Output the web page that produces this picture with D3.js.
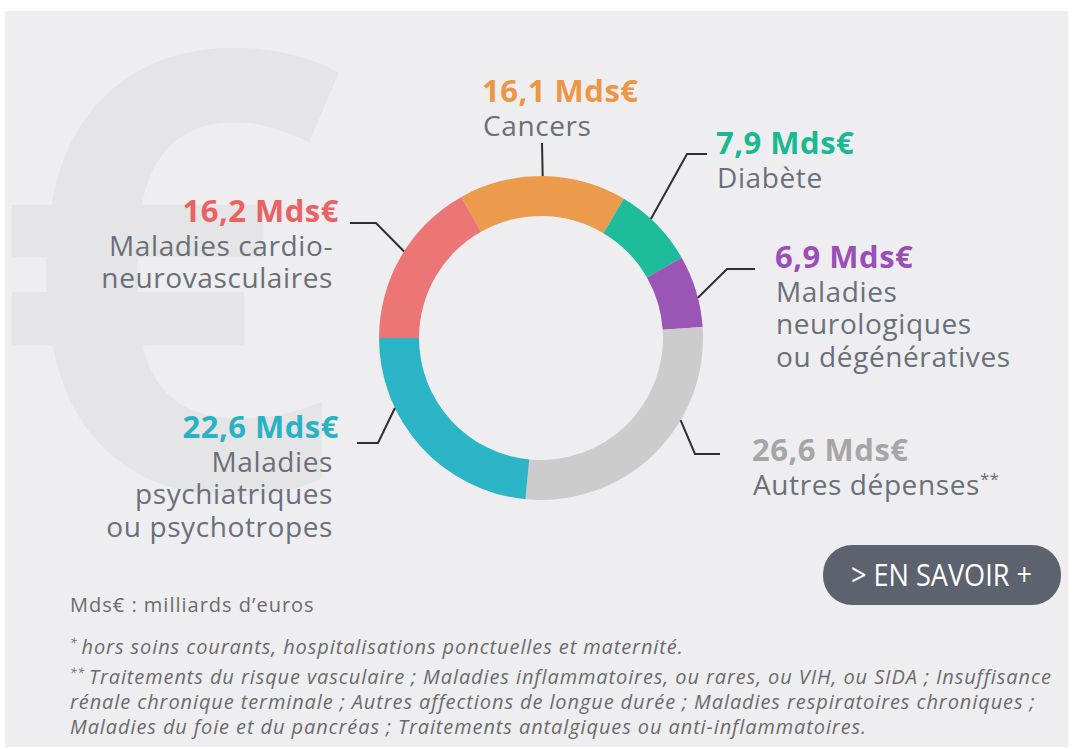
<!DOCTYPE html>
<html>
<head>
<meta charset="utf-8">
<script src="https://cdn.jsdelivr.net/npm/d3@7"></script>
<style>
	body { margin: 0; background: #fff; }
	svg { display: block; font-family: "Open Sans", sans-serif; }
</style>
</head>
<body>
<div id="chart"></div>
<script>
// values (Mds€)
var	categories	= ["Cancers", "Diabète", "Maladies neurologiques ou dégénératives", "Autres dépenses**", "Maladies psychiatriques ou psychotropes", "Maladies cardio-neurovasculaires"],
	values		= [16.1, 7.9, 6.9, 26.6, 22.6, 16.2],
	labelLines	= [["Cancers"], ["Diabète"], ["Maladies", "neurologiques", "ou dégénératives"], ["Autres dépenses**"], ["Maladies", "psychiatriques", "ou psychotropes"], ["Maladies cardio-", "neurovasculaires"]],
	sliceColors	= ["#ec9a4c", "#1dbc9a", "#9b55b5", "#cccccc", "#2bb5c6", "#ec7575"],
	valueColors	= ["#ec9646", "#1bb893", "#9a4fb6", "#a6a6a6", "#2ab2c4", "#ea6262"],
	footnotes	= [
		"* hors soins courants, hospitalisations ponctuelles et maternité.",
		"** Traitements du risque vasculaire ; Maladies inflammatoires, ou rares, ou VIH, ou SIDA ; Insuffisance",
		"rénale chronique terminale ; Autres affections de longue durée ; Maladies respiratoires chroniques ;",
		"Maladies du foie et du pancréas ; Traitements antalgiques ou anti-inflammatoires."
	];

// where each label sits: leader start angle (deg), elbow, end of leader, text anchor
var	placement	= [
	{a: 0.6,   elbow: [542, 143], end: [542, 143], tx: 482, ty: 102, anchor: "start"},
	{a: 42.7,  elbow: [687, 154], end: [707, 154], tx: 716, ty: 154, anchor: "start"},
	{a: 75.6,  elbow: [727, 269], end: [755, 269], tx: 775, ty: 268, anchor: "start"},
	{a: 120.5, elbow: [695, 454], end: [720, 454], tx: 752, ty: 461, anchor: "start"},
	{a: 244.4, elbow: [378, 443], end: [357, 443], tx: 339, ty: 438, anchor: "end"},
	{a: 302.3, elbow: [376, 223], end: [350, 223], tx: 339, ty: 222, anchor: "end"}
];

var	W = 1075, H = 749,
	cx = 541, cy = 338,
	rOuter = 162, rInner = 122,
	start = -29.44 * Math.PI / 180;

var	fr	= d3.formatLocale({decimal: ",", thousands: " ", grouping: [3], currency: ["", "€"]}),
	fmt	= function(v) { return fr.format(".1f")(v) + " Mds€"; };

// put trailing/leading asterisks as small raised marks
function withStars(sel, str) {
	var m = str.match(/^(\**)\s?(.*?)(\**)$/);
	if (m[1]) sel.append("tspan").attr("font-size", "0.6em").attr("dy", -7).text(m[1] + " ");
	sel.append("tspan").attr("dy", m[1] ? 7 : null).text(m[2]);
	if (m[3]) sel.append("tspan").attr("font-size", "0.6em").attr("dy", -10).text(m[3]);
}

var	svg	= d3.select("#chart").append("svg").attr("width", W).attr("height", H);

svg.append("defs").append("clipPath").attr("id", "panel")
	.append("rect").attr("x", 5).attr("y", 11).attr("width", 1063).attr("height", 736);
svg.append("rect").attr("x", 5).attr("y", 11).attr("width", 1063).attr("height", 736).attr("fill", "#eeeef0");

// big euro watermark
svg.append("g").attr("clip-path", "url(#panel)")
	.append("text").attr("x", -8).attr("y", 490)
	.attr("font-size", 615).attr("font-weight", 700).attr("fill", "#e5e5e7")
	.text("€");

var	pie	= d3.pie().sort(null).value(function(d) { return d; })
		.startAngle(start).endAngle(start + 2 * Math.PI),
	arc	= d3.arc().innerRadius(rInner).outerRadius(rOuter),
	arcs	= pie(values);

var	g	= svg.append("g").attr("transform", "translate(" + cx + "," + cy + ")");
g.selectAll("path.slice").data(arcs).enter().append("path")
	.attr("class", "slice")
	.attr("d", arc)
	.attr("fill", function(d, i) { return sliceColors[i]; });

// leaders
svg.selectAll("path.leader").data(placement).enter().append("path")
	.attr("class", "leader")
	.attr("fill", "none").attr("stroke", "#2f2f33").attr("stroke-width", 2)
	.attr("d", function(p) {
		var s = d3.pointRadial(p.a * Math.PI / 180, rOuter);
		return d3.line()([[cx + s[0], cy + s[1]], p.elbow, p.end]);
	});

// labels
var	lab	= svg.selectAll("g.label").data(categories).enter().append("g").attr("class", "label");
lab.append("text")
	.attr("x", function(d, i) { return placement[i].tx; })
	.attr("y", function(d, i) { return placement[i].ty; })
	.attr("text-anchor", function(d, i) { return placement[i].anchor; })
	.attr("font-size", 31).attr("font-weight", 700).attr("letter-spacing", 0.5)
	.attr("fill", function(d, i) { return valueColors[i]; })
	.text(function(d, i) { return fmt(values[i]); });
lab.each(function(d, i) {
	var	p = placement[i];
	labelLines[i].forEach(function(line, j) {
		var t = d3.select(this).append("text")
			.attr("text-anchor", p.anchor)
			.attr("x", p.anchor == "end" ? p.tx - 6 : p.tx + 1)
			.attr("y", p.ty + 33.5 + j * 32.5)
			.attr("font-size", 28).attr("letter-spacing", 0.6).attr("fill", "#6a6f79");
		withStars(t, line);
	}, this);
});

// button
svg.append("rect").attr("x", 823).attr("y", 545).attr("width", 238).attr("height", 60)
	.attr("rx", 29).attr("fill", "#5c626e");
svg.append("text").attr("x", 851).attr("y", 586)
	.attr("font-size", 31).attr("fill", "#fff")
	.attr("textLength", 181).attr("lengthAdjust", "spacingAndGlyphs")
	.text("> EN SAVOIR +");

// footnotes
svg.append("text").attr("x", 70).attr("y", 612)
	.attr("font-size", 20).attr("letter-spacing", 1).attr("fill", "#6b6b6d")
	.text("Mds€ : milliards d’euros");
svg.selectAll("text.note").data(footnotes).enter().append("text")
	.attr("class", "note")
	.attr("x", 70)
	.attr("y", function(d, i) { return i == 0 ? 654 : 684 + (i - 1) * 25; })
	.attr("font-size", 20).attr("letter-spacing", 0.9).attr("font-style", "italic").attr("fill", "#6b6b6d")
	.each(function(d) { withStars(d3.select(this), d); });
</script>
</body>
</html>
